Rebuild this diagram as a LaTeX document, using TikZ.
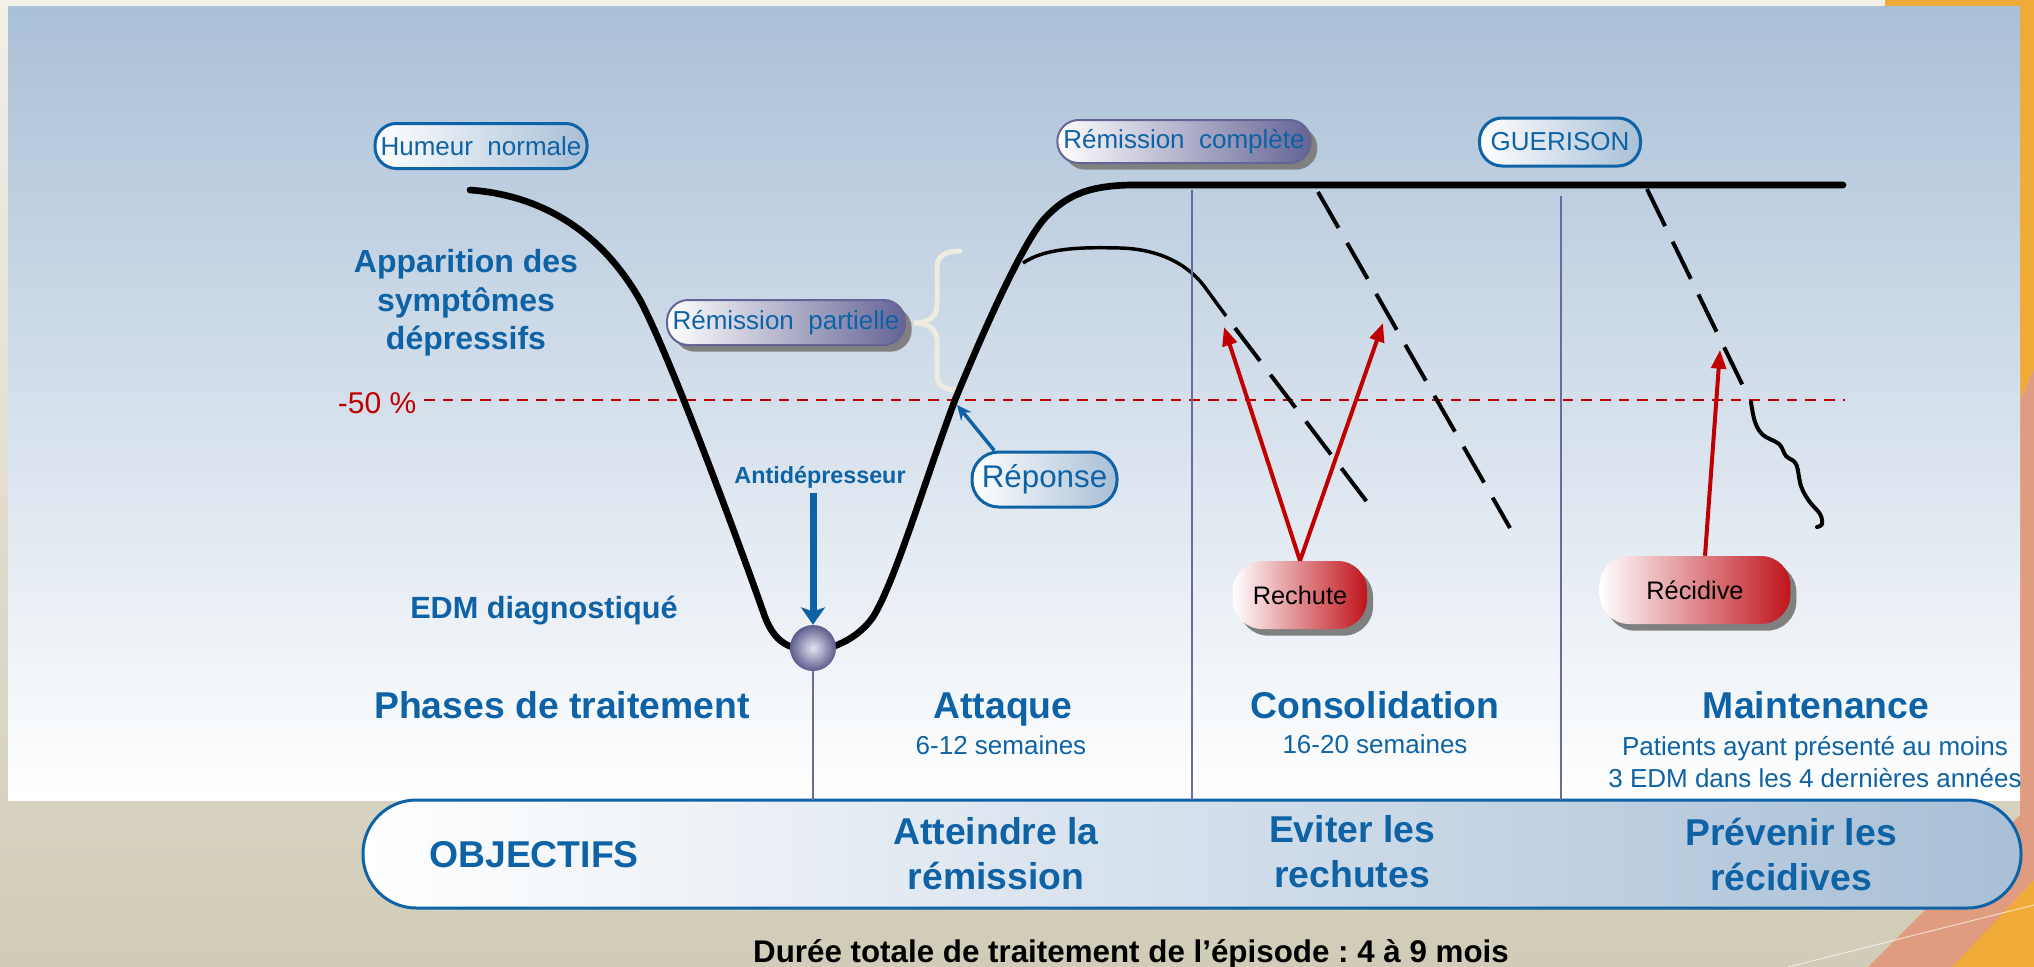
\documentclass[tikz,border=0pt]{standalone}
\usepackage{fontspec}
\setmainfont{Liberation Sans}
\frenchspacing
\usetikzlibrary{arrows.meta,shadows}

\definecolor{bleutexte}{RGB}{14,98,166}
\definecolor{acier}{RGB}{168,191,214}
\definecolor{mauve}{RGB}{100,100,150}
\definecolor{rougefleche}{RGB}{192,0,0}
\definecolor{rougepil}{RGB}{192,20,28}
\definecolor{traitviolet}{RGB}{106,106,158}
\definecolor{creme}{RGB}{238,236,224}
\definecolor{fondhaut}{RGB}{241,240,233}
\definecolor{fondbas}{RGB}{209,204,183}
\definecolor{panneau}{RGB}{170,192,215}
\definecolor{orangedeco}{RGB}{240,170,56}
\definecolor{saumon}{RGB}{224,156,128}
\definecolor{bille1}{RGB}{228,228,240}
\definecolor{bille2}{RGB}{92,92,142}

\begin{document}
\begin{tikzpicture}[x=0.75pt,y=0.75pt,yscale=-1,xscale=1,
  pilbleu/.style={draw=bleutexte, line width=2.25pt, rounded corners=16pt, left color=white, right color=acier, text=bleutexte, font=\fontsize{19.5}{23}\selectfont, inner sep=0pt},
  pilmauve/.style={draw=mauve, line width=1.5pt, rounded corners=16pt, left color=white, right color=mauve, text=bleutexte, font=\fontsize{19.5}{23}\selectfont, inner sep=0pt, drop shadow={shadow xshift=5pt, shadow yshift=-5pt, fill=black!50, opacity=1}},
  pilrouge/.style={rounded corners=22pt, left color=white, right color=rougepil, font=\fontsize{19}{23}\selectfont, inner sep=0pt, minimum height=51pt, drop shadow={shadow xshift=4.5pt, shadow yshift=-5pt, fill=black!50, opacity=1}},
  titre/.style={text=bleutexte, font=\fontsize{28}{34}\selectfont\bfseries, anchor=base},
  soustitre/.style={text=bleutexte, font=\fontsize{19.5}{24}\selectfont, align=center},
  objectif/.style={text=bleutexte, font=\fontsize{28}{33.75}\selectfont\bfseries, align=center},
  courbe/.style={line width=5pt, line cap=round},
  tirets/.style={line width=3pt, dash pattern=on 31pt off 13pt},
  flrouge/.style={draw=rougefleche, line width=3pt, -{Triangle[length=14pt,width=11pt]}},
  phase/.style={draw=traitviolet, line width=1.5pt}
]
\useasboundingbox (0,0) rectangle (2034,967);

% fond de la diapositive
\path[top color=fondhaut, bottom color=fondbas] (0,0) rectangle (2034,967);
\fill[orangedeco] (1885,0) -- (2034,0) -- (2034,370) -- (2020,400) -- (2020,6) -- (1885,6) -- cycle;
\fill[saumon] (1868,967) -- (2020,815) -- (2020,400) -- (2034,370) -- (2034,967) -- cycle;
\fill[orangedeco] (1952,967) -- (2034,880) -- (2034,967) -- cycle;
\draw[white, opacity=0.6, line width=0.8pt] (1788,967) -- (2034,905);

% panneau
\path[top color=panneau, bottom color=white] (8,6) rectangle (2020,800);

% bandeau des objectifs
\path[draw=bleutexte, line width=2.25pt, rounded corners=40pt, left color=white, right color=acier] (363,800) rectangle (2021,908);

% accolade
\draw[creme, line width=3.75pt, line cap=round] (960,251) .. controls (945,251) and (937,256) .. (937,268) -- (937,305) .. controls (937,317) and (928,323) .. (914,323) .. controls (928,323) and (937,329) .. (937,341) -- (937,376) .. controls (937,386) and (945,390) .. (958,390);

% seuil -50 %
\node[text=rougefleche, font=\fontsize{22.5}{26}\selectfont, anchor=east] (moins50) at (421,403) {-50 \%};
\coordinate (seuilg) at (424,400);
\coordinate (seuild) at (1845,400);
\draw[rougefleche, line width=2pt, dash pattern=on 8pt off 6pt] (seuilg) -- (seuild);

% courbe de l'humeur
\draw[courbe] (470,190) .. controls (540,195) and (600,230) .. (640,300)
  .. controls (672,360) and (745,560) .. (765,617)
  .. controls (775,643) and (790,650) .. (813,650)
  .. controls (835,650) and (860,636) .. (873,617)
  .. controls (895,582) and (925,480) .. (955,400)
  .. controls (990,315) and (1025,240) .. (1045,218)
  .. controls (1065,197) and (1085,186) .. (1130,185) -- (1843,185);
\draw[line width=2.6pt] (1023,263) .. controls (1045,248) and (1080,247) .. (1120,248) .. controls (1160,249) and (1190,265) .. (1207,290) -- (1226,316);
\draw[tirets] (1235,328) -- (1367,502);
\draw[tirets] (1318,192) -- (1510,528);
\draw[tirets] (1647,189) -- (1743,386);
\draw[line width=3pt, line join=round, line cap=round] plot[smooth, tension=0.6] coordinates {(1751,402) (1755,422) (1763,435) (1779,444) (1786,456) (1796,464) (1801,486) (1809,501) (1820,514) (1822,524) (1817,527)};

% bille et separations des phases
\node[circle, minimum size=34.5pt, inner sep=0pt, inner color=bille1, outer color=bille2] (bille) at (813,648) {};
\coordinate (bas1) at (813,800);
\coordinate (haut2) at (1192,190);
\coordinate (bas2) at (1192,800);
\coordinate (haut3) at (1561,196);
\coordinate (bas3) at (1561,800);
\draw[phase] (bille.south) -- (bas1);
\draw[phase] (haut2) -- (bas2);
\draw[phase] (haut3) -- (bas3);

% etiquettes
\node[pilbleu, minimum width=159pt, minimum height=33.75pt] (humeur) at (481,146) {Humeur\ \ normale};
\node[pilbleu, minimum width=120.75pt, minimum height=36pt, rounded corners=17pt] (guerison) at (1560,142) {GUERISON};
\node[pilbleu, minimum width=108.75pt, minimum height=41.25pt, rounded corners=20pt, font=\fontsize{23.5}{28}\selectfont] (reponse) at (1044.5,479.5) {Réponse};
\node[pilmauve, minimum width=178.5pt, minimum height=33.75pt] (partielle) at (786,322.5) {Rémission\ \ partielle};
\node[pilmauve, minimum width=190pt, minimum height=32.25pt] (complete) at (1184,141.5) {Rémission\ \ complète};
\node[pilrouge, minimum width=100.5pt] (rechute) at (1300,595) {Rechute};
\node[pilrouge, minimum width=143pt] (recidive) at (1695,590) {Récidive};

\node[text=bleutexte, font=\fontsize{24}{29}\selectfont\bfseries, align=center] (apparition) at (466,303) {Apparition des\\symptômes\\dépressifs};
\node[text=bleutexte, font=\fontsize{23}{27}\selectfont\bfseries] (edm) at (544,610) {EDM diagnostiqué};
\node[text=bleutexte, font=\fontsize{17.5}{21}\selectfont\bfseries] (antidep) at (820,477) {Antidépresseur};

% fleches
\coordinate (croise) at (957,405);
\coordinate (pointe1) at (1224,327);
\coordinate (pointe2) at (1383,323);
\coordinate (pointe3) at (1720,350);
\draw[bleutexte, line width=5.25pt, -{Stealth[length=13pt,width=18pt,inset=3pt]}] (antidep.south -| bille.north) -- (bille.north);
\draw[bleutexte, line width=2.6pt, -{Stealth[length=11pt,width=10pt]}] (reponse.150) -- (croise);
\draw[flrouge] (rechute.north) -- (pointe1);
\draw[flrouge] (rechute.north) -- (pointe2);
\draw[flrouge] ([xshift=7.5pt]recidive.north) -- (pointe3);

% phases de traitement
\node[titre] (phases) at (562,718) {Phases de traitement};
\node[titre] (attaque) at (1003,718) {Attaque};
\node[titre] (consolidation) at (1375,718) {Consolidation};
\node[titre] (maintenance) at (1816,718) {Maintenance};
\node[soustitre, anchor=base] (duree1) at (1001,754) {6-12 semaines};
\node[soustitre, anchor=base] (duree2) at (1375,753) {16-20 semaines};
\node[soustitre, font=\fontsize{19.5}{24}\selectfont] (patients) at (1815,762) {Patients ayant présenté au moins\\3 EDM dans les 4 dernières années};

% objectifs
\node[titre] (objectifs) at (534,867) {OBJECTIFS};
\node[objectif] (obj1) at (996,854) {Atteindre la\\rémission};
\node[objectif] (obj2) at (1352,852) {Eviter les\\rechutes};
\node[objectif] (obj3) at (1791,854) {Prévenir les\\récidives};

\node[font=\fontsize{23.5}{28}\selectfont\bfseries, anchor=base] (duree) at (1131,962) {Durée totale de traitement de l’épisode : 4 à 9 mois};
\end{tikzpicture}
\end{document}
